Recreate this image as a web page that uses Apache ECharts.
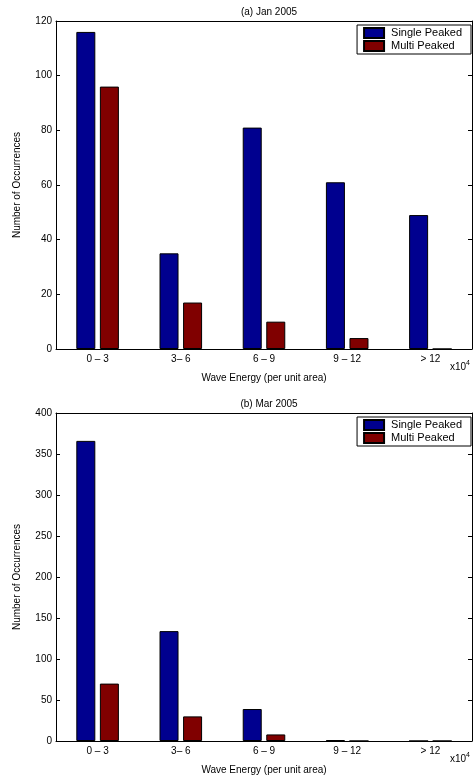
<!DOCTYPE html>
<html>
<head>
<meta charset="utf-8">
<script src="https://cdn.jsdelivr.net/npm/echarts@6/dist/echarts.min.js"></script>
<style>
  html, body { margin: 0; padding: 0; background: #fff; }
  #chart { width: 476px; height: 778px; }
</style>
</head>
<body>
<div id="chart"></div>
<script>
// Wave energy bins (units of 10^4 per unit area)
const categories = ['0 \u2013 3', '3\u2013 6', '6 \u2013 9', '9 \u2013 12', '> 12'];
const seriesNames = ['Single Peaked', 'Multi Peaked'];

// (a) Jan 2005
const janSingle = [116, 35, 81, 61, 49];
const janMulti = [96, 17, 10, 4, 0];

// (b) Mar 2005
const marSingle = [366, 134, 39, 1, 0];
const marMulti = [70, 30, 8, 0, 0];

const panelTitles = ['(a) Jan 2005', '(b) Mar 2005'];
const yMax = [120, 400];
const yStep = [20, 50];

const FONT = 'Liberation Sans, Arial, Helvetica, sans-serif';
const colors = ['#00008f', '#800000'];

const grids = [
  { left: 56, right: 4, top: 21, height: 328 },
  { left: 56, right: 4, top: 413, height: 328 }
];

const xAxes = [], yAxes = [], series = [], titles = [], legends = [], graphics = [];

grids.forEach((g, i) => {
  // bottom category axis with labels
  xAxes.push({
    type: 'category', gridIndex: i, data: categories, position: 'bottom',
    name: 'Wave Energy (per unit area)', nameLocation: 'middle', nameGap: 24,
    nameTextStyle: { fontFamily: FONT, fontSize: 10, color: '#000' },
    axisLine: { onZero: false, lineStyle: { color: '#000', width: 1 } },
    axisTick: { inside: true, alignWithLabel: true, length: 4, lineStyle: { color: '#555' } },
    axisLabel: { fontFamily: FONT, fontSize: 10, color: '#000', margin: 5 }
  });
  // top edge of the box: ticks only
  xAxes.push({
    type: 'category', gridIndex: i, data: categories, position: 'top',
    axisLine: { onZero: false, lineStyle: { color: '#000', width: 1 } },
    axisTick: { inside: true, alignWithLabel: true, length: 4, lineStyle: { color: '#000' } },
    axisLabel: { show: false }
  });
  yAxes.push({
    type: 'value', gridIndex: i, min: 0, max: yMax[i], interval: yStep[i], position: 'left',
    name: 'Number of Occurrences', nameLocation: 'middle', nameGap: 34, nameRotate: 90,
    nameTextStyle: { fontFamily: FONT, fontSize: 10, color: '#000' },
    axisLine: { show: true, onZero: false, lineStyle: { color: '#000', width: 1 } },
    axisTick: { show: true, inside: true, length: 4, lineStyle: { color: '#000' } },
    axisLabel: { fontFamily: FONT, fontSize: 10, color: '#000', margin: 4 },
    splitLine: { show: false }
  });
  // right edge of the box: ticks only
  yAxes.push({
    type: 'value', gridIndex: i, min: 0, max: yMax[i], interval: yStep[i], position: 'right',
    axisLine: { show: true, onZero: false, lineStyle: { color: '#000', width: 1 } },
    axisTick: { show: true, inside: true, length: 4, lineStyle: { color: '#000' } },
    axisLabel: { show: false },
    splitLine: { show: false }
  });

  const data = i === 0 ? [janSingle, janMulti] : [marSingle, marMulti];
  data.forEach((vals, k) => {
    series.push({
      type: 'bar', name: seriesNames[k],
      xAxisIndex: i * 2, yAxisIndex: i * 2,
      data: vals, barWidth: 19, barGap: '24%',
      itemStyle: { color: colors[k], borderColor: '#000', borderWidth: 1 },
      emphasis: { disabled: true }, animation: false
    });
  });

  titles.push({
    text: panelTitles[i], left: 264, top: g.top - 19, textAlign: 'center',
    textStyle: { fontFamily: FONT, fontSize: 10, fontWeight: 'normal', color: '#000' }
  });

  legends.push({
    data: seriesNames, orient: 'vertical', right: 5, top: g.top + 4,
    icon: 'rect',
    backgroundColor: '#fff', borderColor: '#000', borderWidth: 1,
    padding: [2, 9, 2, 6], itemGap: 1, itemWidth: 20, itemHeight: 10,
    textStyle: { fontFamily: FONT, fontSize: 11, lineHeight: 12, color: '#000', padding: [0, 0, 0, 2] },
    selectedMode: false
  });

  graphics.push({
    type: 'text', left: 450, top: g.top + g.height + 11,
    style: {
      text: '{b|x10}{s|4}', fontFamily: FONT,
      rich: {
        b: { fontFamily: FONT, fontSize: 10, fill: '#000' },
        s: { fontFamily: FONT, fontSize: 7, fill: '#000', verticalAlign: 'top', padding: [0, 0, 8, 0] }
      }
    }
  });
});

const chart = echarts.init(document.getElementById('chart'), null, { renderer: 'canvas' });
chart.setOption({
  animation: false,
  backgroundColor: '#fff',
  title: titles,
  legend: legends,
  grid: grids.map(g => Object.assign({}, g, { show: false })),
  xAxis: xAxes,
  yAxis: yAxes,
  series: series,
  graphic: graphics
});
</script>
</body>
</html>
